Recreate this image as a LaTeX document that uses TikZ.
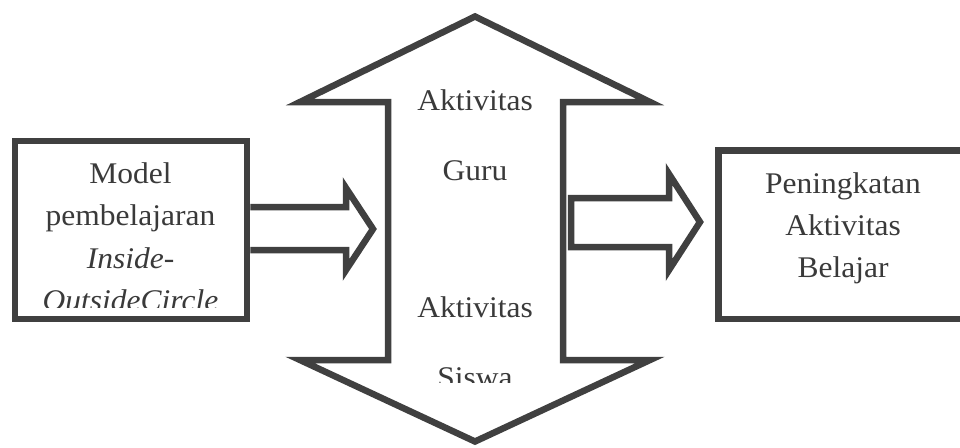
\documentclass[tikz,border=0pt]{standalone}
\usepackage{fontspec}
\setmainfont[FakeStretch=1.05]{Liberation Serif}
\definecolor{ink}{HTML}{404040}
\definecolor{txt}{HTML}{3A3A3A}
\tikzset{
  outline/.style={draw=ink, line width=6.5pt, line join=miter, fill=white},
  lbl/.style={anchor=base, inner sep=0pt, text=txt, font=\fontsize{30}{36}\selectfont},
}
\begin{document}
\begin{tikzpicture}[x=1pt, y=-1pt]
\clip (0,0) rectangle (960,447);
\useasboundingbox (0,0) rectangle (960,447);

% input box
\node[outline, minimum width=232pt, minimum height=178pt, inner sep=0pt] (model) at (131,230) {};
% output box (its right side runs past the edge)
\node[outline, minimum width=258pt, minimum height=168.5pt, inner sep=0pt] (hasil) at (847.5,234.75) {};

% double arrow: teacher and student activities
\draw[outline] (475,16.5) -- (650,102) -- (563,102) -- (563,360) -- (650,360)
  -- (475,441.5) -- (300,360) -- (388,360) -- (388,102) -- (300,102) -- cycle;
\coordinate (aktiv) at (475,229);

% arrow from the model into the activities
\draw[outline] (model.east |- 0,207) -- (346,207) -- (346,188) -- (373,229)
  -- (346,270) -- (346,250) -- (model.east |- 0,250);
% arrow from the activities to the result
\draw[outline] (571,198) -- (669,198) -- (669,174) -- (700,222)
  -- (669,270) -- (669,247) -- (571,247) -- cycle;

% text of the input box, cut off at the lower margin
\begin{scope}
  \clip (18,145) rectangle (243,307);
  \node[lbl] (m1) at (130.5,183) {Model};
  \node[lbl] (m2) at (130.5,225) {pembelajaran};
  \node[lbl] (m3) at (130.5,268) {\itshape Inside-};
  \node[lbl] (m4) at (130.5,310.5) {\itshape OutsideCircle};
\end{scope}

% text of the double arrow
\node[lbl] (g1) at (475,110) {Aktivitas};
\node[lbl] (g2) at (475,180) {Guru};
\node[lbl] (s1) at (475,317) {Aktivitas};
\begin{scope}
  \clip (390,340) rectangle (560,382);
  \node[lbl] (s2) at (475,387) {Siswa};
\end{scope}

% text of the output box
\node[lbl] (h1) at (843,193) {Peningkatan};
\node[lbl] (h2) at (843,235) {Aktivitas};
\node[lbl] (h3) at (843,277) {Belajar};
\end{tikzpicture}
\end{document}
